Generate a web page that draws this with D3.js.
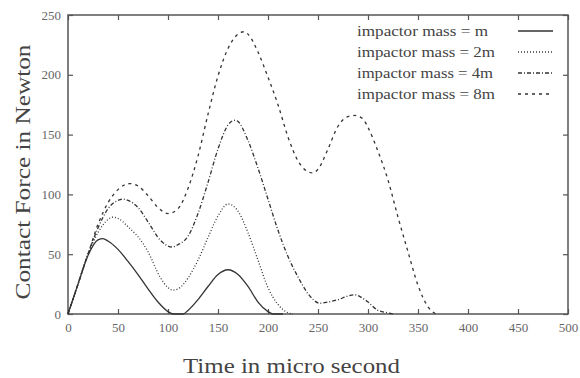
<!DOCTYPE html>
<html><head><meta charset="utf-8">
<script src="https://cdn.jsdelivr.net/npm/d3@7"></script>
<style>
body{margin:0;background:#fff;}
svg text{font-family:"Liberation Serif","Times New Roman",Times,serif !important;}
</style></head>
<body><svg id="c" width="580" height="378"></svg>
<script>
const xTicks = [0,50,100,150,200,250,300,350,400,450,500];
const yTicks = [0,50,100,150,200,250];
const seriesNames = ["impactor mass = m","impactor mass = 2m","impactor mass = 4m","impactor mass = 8m"];
const massM = [[0,0],[10,25],[20,49],[30,62],[35,63],[40,61],[50,54],[60,44],[70,33],[80,21],[90,10],[100,2],[105,0],[115,0],[120,3],[130,12],[140,23],[150,33],[160,37],[170,33],[180,23],[190,10],[200,2],[205,0],[215,0]];
const mass2M = [[0,0],[10,25],[20,50],[30,68],[40,79],[45,81],[50,80],[60,73],[75,59],[80,52],[92,31],[100,22],[105,20],[110,21],[120,30],[125,37],[130,45],[140,64],[150,82],[160,92],[170,86],[180,68],[190,45],[200,22],[210,8],[220,1],[225,0]];
const mass4M = [[0,0],[10,25],[20,50],[30,72],[40,88],[50,95],[55,96],[60,95],[70,89],[80,77],[92,62],[104,56],[110,58],[120,65],[130,84],[140,110],[150,138],[160,158],[167,162],[170,161],[180,145],[190,122],[200,96],[210,70],[220,48],[230,31],[240,17],[252,9],[260,10],[270,12],[280,15],[287,16],[295,13],[300,10],[310,3],[320,1],[325,0]];
const mass8M = [[0,0],[10,25],[20,50],[30,75],[40,93],[50,104],[62,109],[70,107],[80,99],[90,89],[100,84],[110,88],[120,105],[130,132],[140,167],[150,199],[160,222],[170,234],[176,236],[180,234],[190,219],[200,198],[210,175],[220,148],[230,128],[240,119],[245,118],[250,121],[260,138],[270,157],[280,165],[287,166],[295,163],[300,156],[310,136],[320,112],[330,81],[340,52],[350,24],[360,6],[368,0]];
const allSeries = [massM, mass2M, mass4M, mass8M];
const dashes = [null, "1,2", "4,2,1,2", "3,4"];

const svg = d3.select("#c");
const x = d3.scaleLinear().domain([0,500]).range([68,568]);
const y = d3.scaleLinear().domain([0,250]).range([314,15]);
const axisCol = "#555";

const gB = svg.append("g").attr("transform","translate(0,314)")
  .call(d3.axisBottom(x).tickValues(xTicks).tickSizeInner(-5).tickSizeOuter(0).tickPadding(9));
const gL = svg.append("g").attr("transform","translate(68,0)")
  .call(d3.axisLeft(y).tickValues(yTicks).tickSizeInner(-5).tickSizeOuter(0).tickPadding(7));
const gT = svg.append("g").attr("transform","translate(0,15)")
  .call(d3.axisTop(x).tickValues(xTicks).tickSizeInner(-5).tickSizeOuter(0).tickFormat(""));
const gR = svg.append("g").attr("transform","translate(568,0)")
  .call(d3.axisRight(y).tickValues(yTicks).tickSizeInner(-5).tickSizeOuter(0).tickFormat(""));
[gB,gL,gT,gR].forEach(g=>{
  g.attr("font-family",null);
  g.select(".domain").remove();
  g.selectAll("line").attr("stroke",axisCol).attr("stroke-width",1.2);
  g.selectAll("text").attr("fill","#666").style("font-size","13px");
});
svg.append("rect").attr("x",68).attr("y",15).attr("width",500).attr("height",299)
  .attr("fill","none").attr("stroke",axisCol).attr("stroke-width",1.5);

const line = d3.line().x(d=>x(d[0])).y(d=>y(d[1])).curve(d3.curveMonotoneX);
allSeries.forEach((s,i)=>{
  svg.append("path").datum(s).attr("d",line).attr("fill","none")
    .attr("stroke","#333").attr("stroke-width",1.3)
    .attr("stroke-dasharray",dashes[i]);
});

// legend
const legY = [31,52,73,94];
const legW = [131,138,136,138];
seriesNames.forEach((n,i)=>{
  svg.append("text").attr("x",357).attr("y",legY[i]).attr("dy","0.33em")
    .attr("fill","#444").style("font-size","14px")
    .attr("textLength",legW[i]).attr("lengthAdjust","spacingAndGlyphs").text(n);
  svg.append("line").attr("x1",518).attr("x2",553).attr("y1",legY[i]).attr("y2",legY[i])
    .attr("stroke","#333").attr("stroke-width",1.3).attr("stroke-dasharray",dashes[i]);
});

svg.append("text").attr("x",183).attr("y",373)
  .attr("fill","#444").style("font-size","21px")
  .attr("textLength",217).attr("lengthAdjust","spacingAndGlyphs").text("Time in micro second");
svg.append("text").attr("transform","translate(30,172) rotate(-90)").attr("text-anchor","middle")
  .attr("fill","#444").style("font-size","21px")
  .attr("textLength",255).attr("lengthAdjust","spacingAndGlyphs").text("Contact Force in Newton");
</script></body></html>
